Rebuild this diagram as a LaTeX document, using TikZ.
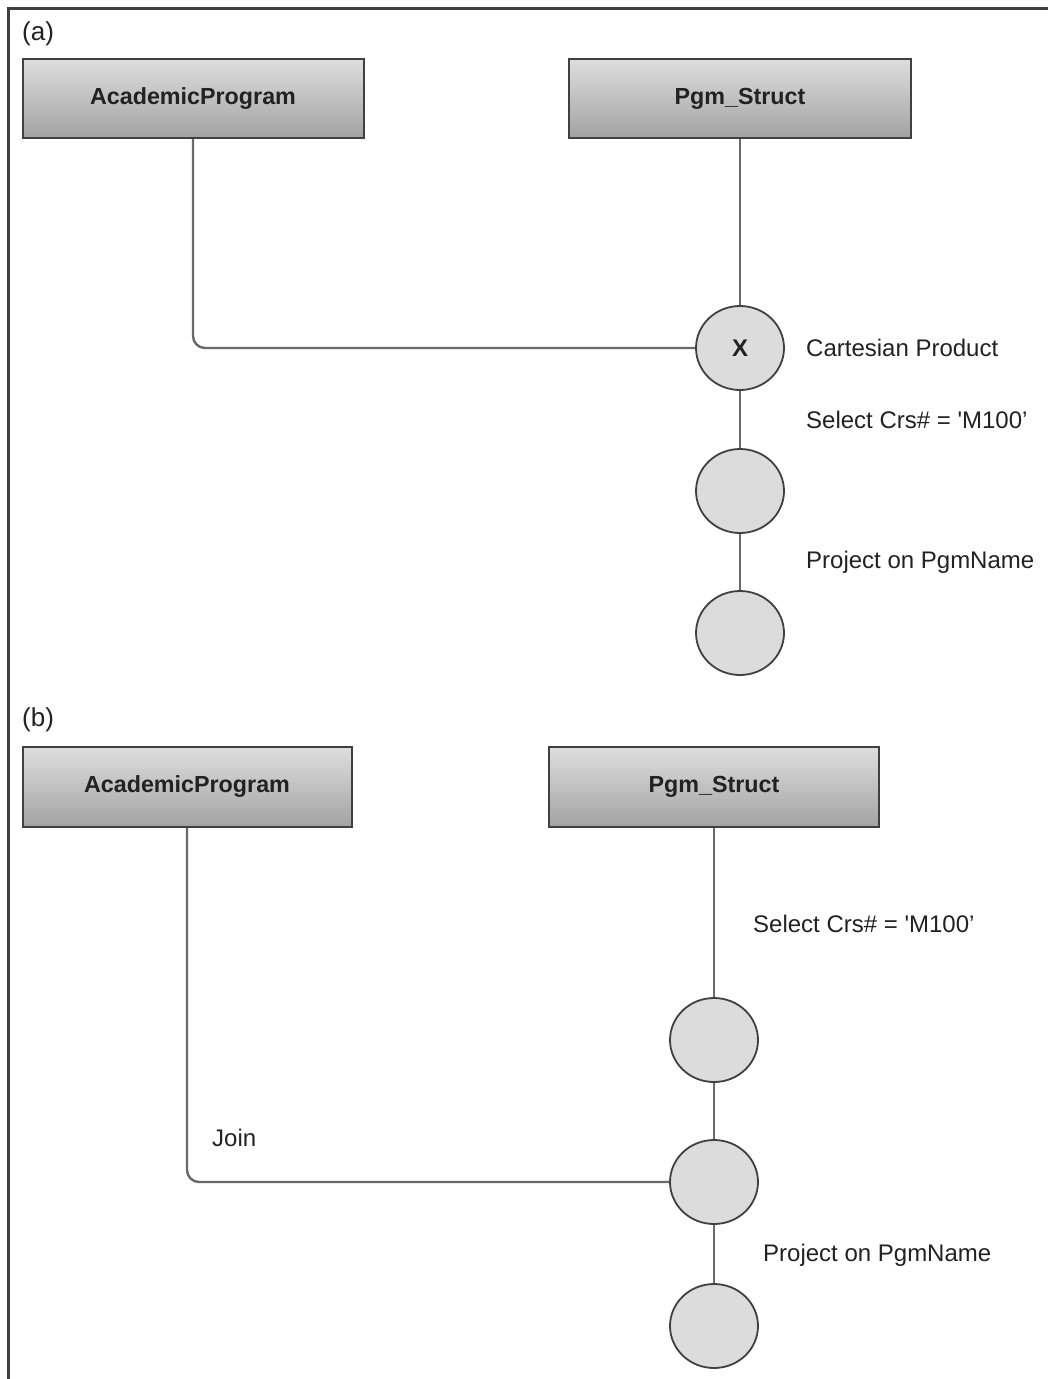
\documentclass[tikz,border=0pt]{standalone}
\usepackage{fontspec}
\setmainfont{Liberation Sans}
\usetikzlibrary{shapes.geometric}
\definecolor{boxtop}{HTML}{DEDEDE}
\definecolor{boxbot}{HTML}{A2A2A2}
\definecolor{edge}{HTML}{404040}
\definecolor{linec}{HTML}{6A6A6A}
\definecolor{circfill}{HTML}{DCDCDC}
\definecolor{txt}{HTML}{222222}
\tikzset{
  tbl/.style={draw=edge, line width=2pt, top color=boxtop, bottom color=boxbot,
    font=\fontsize{23.3}{27}\selectfont\bfseries, text=txt, inner sep=0pt},
  opnode/.style={ellipse, draw=edge, line width=1.8pt, fill=circfill,
    minimum width=88pt, minimum height=84pt, inner sep=0pt,
    font=\fontsize{24}{28}\selectfont\bfseries, text=txt},
  conn/.style={draw=linec, line width=2.4pt, rounded corners=12pt},
  lbl/.style={anchor=west, inner sep=0pt, font=\fontsize{24}{28}\selectfont, text=txt},
  partlbl/.style={anchor=west, inner sep=0pt, font=\fontsize{26}{30}\selectfont, text=txt},
  frameline/.style={draw=edge, line width=3pt}
}
\begin{document}
\begin{tikzpicture}[x=1pt, y=-1pt]
\useasboundingbox (0,0) rectangle (1048,1379);
\fill[white] (0,0) rectangle (1048,1379);
% frame
\coordinate (fTL) at (8,8);
\coordinate (fTR) at (1048,8);
\coordinate (fBL) at (8,1379);
\draw[frameline] (fTR) -- (fTL) -- (fBL);

% (a)
\node[partlbl] (la) at (22,34) {(a)};
\node[tbl, minimum width=341pt, minimum height=79pt] (A1) at (193,98.5) {AcademicProgram};
\node[tbl, minimum width=342pt, minimum height=79pt] (P1) at (740,98.5) {Pgm\_Struct};
\node[opnode] (X) at (740,348) {X};
\node[opnode] (S1) at (740,491) {};
\node[opnode] (R1) at (740,633) {};
\draw[conn] (A1.south) |- (X.west);
\draw[conn] (P1.south) -- (X.north);
\draw[conn] (X.south) -- (S1.north);
\draw[conn] (S1.south) -- (R1.north);
\node[lbl] (t1) at (806,348) {Cartesian Product};
\node[lbl] (t2) at (806,420) {Select Crs\# = \textquotesingle M100'};
\node[lbl] (t3) at (806,562) {Project on PgmName};

% (b)
\node[partlbl] (lb) at (22,720) {(b)};
\node[tbl, minimum width=329pt, minimum height=80pt] (A2) at (187,787) {AcademicProgram};
\node[tbl, minimum width=330pt, minimum height=80pt] (P2) at (714,787) {Pgm\_Struct};
\node[opnode] (S2) at (714,1040) {};
\node[opnode] (J2) at (714,1182) {};
\node[opnode] (R2) at (714,1326) {};
\draw[conn] (P2.south) -- (S2.north);
\draw[conn] (S2.south) -- (J2.north);
\draw[conn] (J2.south) -- (R2.north);
\draw[conn] (A2.south) |- (J2.west);
\node[lbl] (t4) at (753,924) {Select Crs\# = \textquotesingle M100'};
\node[lbl] (t5) at (212,1138) {Join};
\node[lbl] (t6) at (763,1255) {Project on PgmName};
\end{tikzpicture}
\end{document}
